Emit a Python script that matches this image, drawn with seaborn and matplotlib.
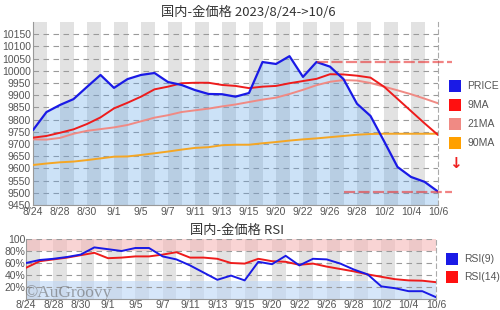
import matplotlib
matplotlib.use("Agg")
import numpy as np
import pandas as pd
import seaborn as sns
import matplotlib.pyplot as plt
from matplotlib.patches import Rectangle
from matplotlib import font_manager

# ---- data ----
dates = ["8/24", "8/25", "8/28", "8/29", "8/30", "8/31", "9/1", "9/4", "9/5", "9/6",
         "9/7", "9/8", "9/11", "9/12", "9/13", "9/14", "9/15", "9/19", "9/20", "9/21",
         "9/22", "9/25", "9/26", "9/27", "9/28", "9/29", "10/2", "10/3", "10/4", "10/5", "10/6"]
price = [9757, 9831, 9860, 9884, 9934, 9983, 9930, 9966, 9983, 9991,
         9954, 9942, 9921, 9905, 9904, 9894, 9909, 10036, 10028, 10060,
         9975, 10036, 10017, 9966, 9865, 9815, 9712, 9606, 9565, 9545, 9505]
ma9 = [9726, 9733, 9746, 9760, 9782, 9809, 9846, 9869, 9894, 9924,
       9935, 9949, 9951, 9951, 9942, 9938, 9929, 9935, 9938, 9949,
       9958, 9967, 9986, 9985, 9980, 9972, 9935, 9885, 9835, 9785, 9737]
ma21 = [9719, 9718, 9725, 9742, 9754, 9761, 9768, 9778, 9793, 9808,
        9818, 9831, 9838, 9845, 9854, 9862, 9872, 9882, 9890, 9905,
        9922, 9941, 9955, 9962, 9960, 9950, 9935, 9920, 9904, 9886, 9867]
ma90 = [9614, 9620, 9625, 9628, 9634, 9641, 9648, 9649, 9655, 9662,
        9669, 9677, 9684, 9687, 9695, 9697, 9697, 9703, 9708, 9714,
        9719, 9723, 9728, 9733, 9738, 9741, 9742, 9742, 9742, 9742, 9742]
rsi9 = [60, 65, 67, 70, 74, 86, 83, 80, 85, 85,
        71, 66, 56, 44, 32, 39, 31, 62, 58, 72,
        56, 67, 66, 59, 49, 41, 21, 18, 13, 13, 3]
rsi14 = [52, 63, 66, 69, 73, 77, 68, 69, 71, 71,
         74, 78, 69, 69, 67, 60, 59, 67, 63, 62,
         57, 59, 54, 50, 46, 41, 37, 33, 31, 30.5, 28]
hi_level = 10037
lo_level = 9502
price_ticks = list(range(9450, 10151, 50))
rsi_ticks = [20, 40, 60, 80, 100]
rsi_ticklabels = ["20%", "40%", "60%", "80%", "100"]
legend_main = ["PRICE", "9MA", "21MA", "90MA"]
legend_rsi = ["RSI(9)", "RSI(14)"]

sns.set_theme(style="white")
_avail = {f.name for f in font_manager.fontManager.ttflist}
NARROW = "Liberation Sans Narrow" if "Liberation Sans Narrow" in _avail else "Liberation Sans"
plt.rcParams["font.family"] = [NARROW, "Noto Sans CJK JP", "DejaVu Sans"]

C_PRICE = "#1a1ae6"
C_9 = "#ee1c1c"
C_21 = "#f08a84"
C_90 = "#f5a623"
C_FILL = (98 / 255, 165 / 255, 232 / 255)
C_GRAY = "#e2e2e2"
C_GRID = "#9a9a9a"
C_TXT = "#555555"
TICK_FS = 8.5 if NARROW.endswith("Narrow") else 7.5

W, H = 500, 310
fig = plt.figure(figsize=(W / 100, H / 100), dpi=100)
fig.patch.set_facecolor("white")

def fax(l, t, r, b):
    return fig.add_axes([l / W, 1 - b / H, (r - l) / W, (b - t) / H])

ax = fax(33, 22, 438, 205)
ax2 = fax(26, 239, 436, 299)

n = len(dates)
df = pd.DataFrame({"idx": np.arange(n), "date": dates, "price": price,
                   "ma9": ma9, "ma21": ma21, "ma90": ma90,
                   "rsi9": rsi9, "rsi14": rsi14})

# ---- alternating day stripes ----
for a in (ax, ax2):
    for i in range(0, n - 1, 2):
        a.axvspan(i, i + 1, color=C_GRAY, lw=0, zorder=0)

# ---- main panel ----
ax.fill_between(df["idx"], df["price"], 9450, color=C_FILL, alpha=0.32, lw=0, zorder=1)
sns.lineplot(data=df, x="idx", y="ma90", ax=ax, color=C_90, lw=1.4, zorder=3)
sns.lineplot(data=df, x="idx", y="ma21", ax=ax, color=C_21, lw=1.4, zorder=3)
sns.lineplot(data=df, x="idx", y="ma9", ax=ax, color=C_9, lw=1.4, zorder=4)
sns.lineplot(data=df, x="idx", y="price", ax=ax, color=C_PRICE, lw=1.6, zorder=5)
ax.plot([21, 31], [hi_level, hi_level], color="#e83030", lw=1.6, alpha=0.6,
        ls=(0, (5, 1.5)), clip_on=False, zorder=6)
ax.plot([23, 31], [lo_level, lo_level], color="#e83030", lw=1.6, alpha=0.6,
        ls=(0, (5, 1.5)), clip_on=False, zorder=6)

ax.set_xlim(0, n - 1)
ax.set_ylim(9450, 10200)
ax.set_yticks(price_ticks)
ax.set_yticklabels([str(v) for v in price_ticks])
ax.set_xticks(np.arange(0, n, 2))
ax.set_xticklabels(dates[::2])
ax.yaxis.grid(True, ls=(0, (5, 4)), color=C_GRID, lw=0.8)
ax.xaxis.grid(False)
ax.set_xlabel("")
ax.set_ylabel("")
ax.tick_params(axis="both", length=0, labelsize=TICK_FS, colors=C_TXT, pad=1.5)
for s in ("left", "bottom"):
    ax.spines[s].set_color("#999999")
    ax.spines[s].set_linewidth(0.8)
ax.spines["top"].set_visible(False)
ax.spines["right"].set_color("#aaaaaa")
ax.spines["right"].set_linestyle((0, (4, 3)))
ax.spines["right"].set_linewidth(0.8)
ax.set_facecolor("white")

# ---- RSI panel ----
ax2.axhspan(80, 100, color="#f6b8b8", alpha=0.6, lw=0, zorder=0.5)
ax2.axhspan(0, 30, color="#bcd6f6", alpha=0.6, lw=0, zorder=0.5)
sns.lineplot(data=df, x="idx", y="rsi14", ax=ax2, color=C_9, lw=1.4, zorder=3)
sns.lineplot(data=df, x="idx", y="rsi9", ax=ax2, color=C_PRICE, lw=1.4, zorder=4)
ax2.set_xlim(0, n - 1)
ax2.set_ylim(0, 100)
ax2.set_yticks(rsi_ticks)
ax2.set_yticklabels(rsi_ticklabels)
ax2.set_xticks(np.arange(0, n, 2))
ax2.set_xticklabels(dates[::2])
ax2.yaxis.grid(True, ls=(0, (5, 4)), color=C_GRID, lw=0.8)
ax2.xaxis.grid(False)
ax2.set_xlabel("")
ax2.set_ylabel("")
ax2.tick_params(axis="both", length=0, labelsize=TICK_FS, colors=C_TXT, pad=0.5)
for s in ("left", "bottom"):
    ax2.spines[s].set_color("#999999")
    ax2.spines[s].set_linewidth(0.8)
ax2.spines["top"].set_visible(False)
ax2.spines["right"].set_color("#aaaaaa")
ax2.spines["right"].set_linestyle((0, (4, 3)))
ax2.spines["right"].set_linewidth(0.8)

# ---- titles ----
fig.text(248 / W, 1 - 12 / H, "国内-金価格 2023/8/24->10/6", ha="center", va="center",
         fontsize=9.5, color="#333333", family=["Noto Sans CJK JP", "DejaVu Sans"])
fig.text(237 / W, 1 - 230 / H, "国内-金価格 RSI", ha="center", va="center",
         fontsize=9.5, color="#333333", family=["Noto Sans CJK JP", "DejaVu Sans"])

# ---- legends ----
def legend_item(x, yc, color, label):
    fig.add_artist(Rectangle((x / W, 1 - (yc + 6) / H), 12 / W, 12 / H,
                             transform=fig.transFigure, color=color, lw=0))
    fig.text((x + 18) / W, 1 - yc / H, label, ha="left", va="center",
             fontsize=TICK_FS, color=C_TXT)

for lab, col, yc in zip(legend_main, [C_PRICE, "#ff1010", C_21, "#ffa000"], [86, 105, 124, 143]):
    legend_item(449, yc, col, lab)
fig.text(455 / W, 1 - 164 / H, "↓", ha="center", va="center", fontsize=11,
         color="#ee2020", family=["DejaVu Sans"], fontweight="bold")
for lab, col, yc in zip(legend_rsi, [C_PRICE, "#ff1010"], [259, 277]):
    legend_item(446, yc, col, lab)

# ---- watermark ----
fig.text(24 / W, 1 - 293 / H, "©AuGroovy", ha="left", va="center", fontsize=12.5,
         color="#6a6a6a", alpha=0.6, family=["Liberation Serif", "DejaVu Serif"])

fig.savefig("out.png", dpi=100)
